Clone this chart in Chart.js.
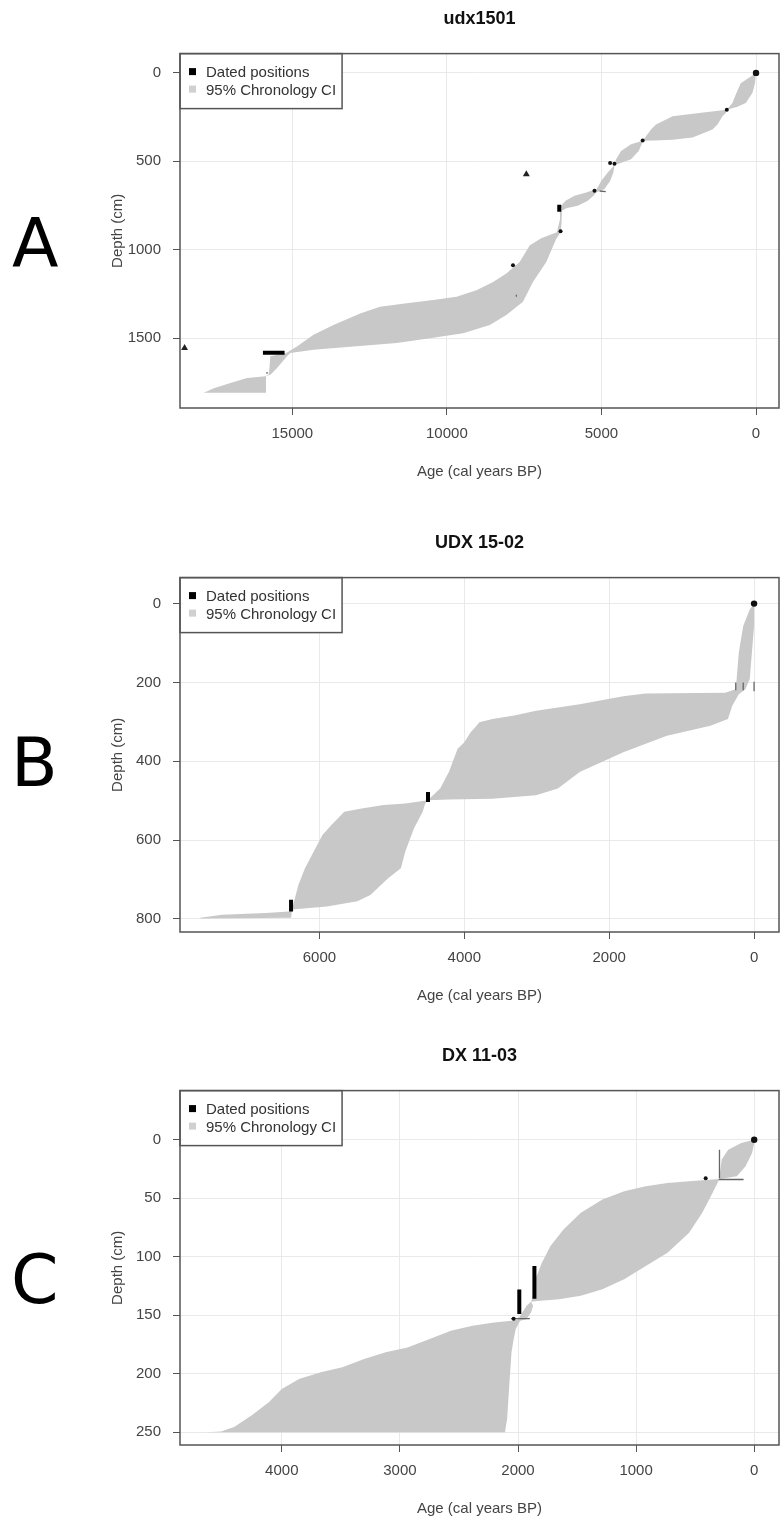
<!DOCTYPE html>
<html lang="en">
<head>
  <meta charset="UTF-8" />
  <title>Age-depth models</title>
  <script src="https://cdn.jsdelivr.net/npm/chart.js"></script>
  <style>
    html, body { margin: 0; padding: 0; background: #fff; }
    #page { position: relative; width: 783px; height: 1521px; overflow: hidden; }
    .panel { position: absolute; left: 0; width: 783px; height: 484px; }
    .tag { position: absolute; font: 68px "DejaVu Sans", sans-serif; line-height: 1; color: #000; }
  </style>
</head>
<body>
<div id="page">
  <div class="tag" style="left:12px; top:210px">A</div>
  <div class="tag" style="left:11px; top:729px">B</div>
  <div class="tag" style="left:11px; top:1246px">C</div>
  <div class="panel" style="top:0px"><canvas id="chart-a"></canvas></div>
  <div class="panel" style="top:524px"><canvas id="chart-b"></canvas></div>
  <div class="panel" style="top:1037px"><canvas id="chart-c"></canvas></div>
</div>

<script>
  // ---- shared labels ----
  const legendLabels = ['Dated positions', '95% Chronology CI'];
  const xTitle = 'Age (cal years BP)';
  const yTitle = 'Depth (cm)';

  // ---- A: udx1501 ----
  // young (right) edge of the 95% band, top -> bottom
  const aYoungDepth = [0, 58, 114, 170, 192, 208, 227, 245, 292, 320, 365, 378, 383, 384, 404, 442, 489, 522, 564, 611, 657, 676, 695, 723, 751, 766, 780, 845, 901, 938, 1069, 1182, 1294, 1369, 1425, 1472, 1500, 1528, 1547, 1566, 1584, 1603, 1669, 1706, 1715, 1809];
  const aYoungAge   = [0, 32, 118, 333, 600, 946, 978, 1086, 1247, 1408, 2054, 2700, 3300, 3667, 3699, 3796, 4043, 4581, 4613, 4720, 4903, 5171, 5258, 5442, 5764, 6139, 6280, 6290, 6320, 6462, 6785, 7216, 7539, 8076, 8613, 9474, 10549, 11623, 13023, 14313, 15065, 15172, 15495, 15700, 15850, 15850];
  // old (left) edge of the band, top -> bottom
  const aOldDepth = [0, 58, 114, 170, 208, 227, 245, 292, 320, 358, 375, 384, 404, 442, 489, 522, 564, 611, 657, 676, 695, 723, 751, 766, 780, 826, 901, 935, 976, 1069, 1135, 1182, 1229, 1266, 1285, 1303, 1322, 1360, 1425, 1481, 1547, 1584, 1603, 1669, 1706, 1715, 1725, 1753, 1784, 1809];
  const aOldAge   = [0, 494, 635, 764, 946, 1839, 2700, 3236, 3397, 3558, 3635, 3667, 4043, 4365, 4526, 4581, 4797, 5010, 5152, 5494, 5871, 6162, 6300, 6333, 6345, 6340, 6441, 6950, 7323, 7646, 8076, 8506, 9044, 9689, 10442, 11302, 12162, 12807, 13668, 14313, 14851, 15200, 15710, 15740, 15765, 15872, 16463, 17001, 17539, 17862];
  const aDotAge   = [0, 946, 3667, 5226, 6323, 7862, 4720, 4580];
  const aDotDepth = [0, 208, 382, 667, 895, 1088, 510, 514];
  const aTriAge   = [7430, 18485];
  const aTriDepth = [573, 1556];
  const aSpans    = [[6365, 745, 6365, 785], [15950, 1582, 15250, 1582]];   // age1, depth1, age2, depth2
  const aThin     = [[7752, 1254, 7752, 1266], [15818, 1692, 15818, 1702], [5060, 668, 4860, 672]];
  const aAgeTicks = [0, 5000, 10000, 15000];
  const aDepthTicks = [0, 500, 1000, 1500];

  // ---- B: UDX 15-02 ----
  const bYoungDepth = [0, 57, 124, 192, 217, 230, 259, 293, 310, 335, 377, 427, 469, 486, 495, 497, 499, 507, 528, 570, 629, 671, 697, 739, 755, 768, 776, 797];
  const bYoungAge   = [0, 0, 30, 60, 120, 211, 301, 361, 602, 1204, 1805, 2407, 2708, 3009, 3611, 4213, 4501, 4540, 4574, 4694, 4814, 4875, 5055, 5296, 5476, 5897, 6379, 6390];
  const bOldDepth = [0, 15, 57, 124, 192, 217, 226, 228, 235, 255, 272, 284, 293, 301, 314, 326, 352, 368, 427, 469, 490, 499, 507, 511, 520, 528, 562, 587, 629, 671, 713, 755, 776, 781, 785, 789, 797, 799];
  const bOldAge   = [0, 60, 150, 211, 241, 253, 400, 1500, 1805, 2407, 3009, 3310, 3611, 3791, 3852, 3912, 4002, 4092, 4213, 4333, 4453, 4501, 4814, 5115, 5416, 5657, 5837, 5958, 6078, 6199, 6289, 6349, 6379, 6420, 6740, 7342, 7643, 7643];
  const bDotAge   = [0];
  const bDotDepth = [0];
  const bSpans    = [[4501, 478, 4501, 503], [6391, 751, 6391, 781]];
  const bThin     = [[0, 198, 0, 222], [150, 200, 150, 220], [253, 200, 253, 220]];
  const bAgeTicks = [0, 2000, 4000, 6000];
  const bDepthTicks = [0, 200, 400, 600, 800];

  // ---- C: DX 11-03 ----
  const cYoungDepth = [0, 2.8, 11.4, 22.7, 31.3, 33.5, 48.3, 62.5, 79.5, 96.6, 108, 119.3, 127.8, 133.5, 136.4, 137.8, 138.6, 142, 147.7, 153.4, 154.8, 161.9, 170.5, 181.8, 210.2, 238.6, 250];
  const cYoungAge   = [0, 0, 18, 73, 147, 294, 367, 440, 551, 734, 918, 1101, 1285, 1468, 1652, 1835, 1890, 1872, 1890, 1930, 1982, 2019, 2037, 2055, 2074, 2092, 2110];
  const cOldDepth = [0, 2.8, 8.5, 17, 31.3, 33.5, 35.5, 36.9, 39.8, 44, 51.1, 62.5, 76.7, 90.9, 105.1, 119.3, 133.5, 138.6, 142, 147.7, 153.4, 154.8, 156.3, 159.1, 163.4, 170.5, 177.6, 181.8, 187.5, 194.6, 198.9, 204.6, 213.1, 224.4, 235.8, 245.7, 249.4, 250];
  const cOldAge   = [0, 110, 220, 275, 294, 294, 551, 734, 918, 1101, 1285, 1468, 1615, 1725, 1798, 1853, 1872, 1890, 1927, 1963, 2000, 2055, 2202, 2386, 2569, 2753, 2936, 3120, 3303, 3487, 3670, 3854, 4000, 4110, 4257, 4404, 4514, 4643];
  const cDotAge   = [0, 411, 2037];
  const cDotDepth = [0, 33, 153];
  const cSpans    = [[1989, 128, 1989, 149], [1861, 108, 1861, 136]];
  const cThin     = [[294, 8.5, 294, 33], [90, 34, 300, 34], [2060, 153, 1900, 153]];
  const cAgeTicks = [0, 1000, 2000, 3000, 4000];
  const cDepthTicks = [0, 50, 100, 150, 200, 250];

  const FONT = '"Liberation Sans", Arial, sans-serif';
  const BAND = '#c8c8c8';

  // closed outline: young edge downwards, old edge back up
  function bandPolygon(yd, ya, od, oa) {
    const pts = yd.map((d, i) => ({x: ya[i], y: d}));
    for (let i = od.length - 1; i >= 0; i--) pts.push({x: oa[i], y: od[i]});
    return pts;
  }

  function spanSets(spans, width, color) {
    return spans.map(s => ({
      type: 'line',
      data: [{x: s[0], y: s[1]}, {x: s[2], y: s[3]}],
      borderColor: color,
      borderWidth: width,
      borderCapStyle: 'butt',
      pointRadius: 0,
      fill: false
    }));
  }

  // plot frame + framed legend drawn inside top-left of the plot area
  const frame = {
    id: 'frame',
    afterDraw(chart) {
      const {ctx, chartArea: a} = chart;
      ctx.save();
      ctx.font = '15px ' + FONT;
      const w = Math.max(...legendLabels.map(t => ctx.measureText(t).width)) + 32;
      const h = 55;
      ctx.fillStyle = '#fff';
      ctx.fillRect(a.left, a.top, w, h);
      ctx.strokeStyle = '#555';
      ctx.lineWidth = 1.5;
      ctx.strokeRect(a.left, a.top, w, h);
      ctx.fillStyle = '#000';
      ctx.fillRect(a.left + 9, a.top + 14.5, 7, 7);
      ctx.fillStyle = '#d0d0d0';
      ctx.fillRect(a.left + 9, a.top + 32, 7, 7);
      ctx.fillStyle = '#333';
      ctx.textBaseline = 'middle';
      ctx.fillText(legendLabels[0], a.left + 26, a.top + 19);
      ctx.fillText(legendLabels[1], a.left + 26, a.top + 37);
      ctx.strokeRect(a.left, a.top, a.right - a.left, a.bottom - a.top);
      ctx.restore();
    }
  };

  function makeChart(id, cfg) {
    const datasets = [
      {
        type: 'scatter',
        data: cfg.dotAge.map((a, i) => ({x: a, y: cfg.dotDepth[i]})),
        pointStyle: 'circle',
        pointRadius: c => c.dataIndex === 0 ? 3.2 : 2,
        backgroundColor: '#111', borderColor: '#111', borderWidth: 0
      },
      {
        type: 'scatter',
        data: cfg.triAge.map((a, i) => ({x: a, y: cfg.triDepth[i]})),
        pointStyle: 'triangle', pointRadius: 4, backgroundColor: '#222', borderColor: '#222', borderWidth: 0
      },
      ...spanSets(cfg.spans, 4, '#000'),
      ...spanSets(cfg.thin, 1.3, '#666'),
      {
        type: 'line',
        label: legendLabels[1],
        data: bandPolygon(cfg.youngDepth, cfg.youngAge, cfg.oldDepth, cfg.oldAge),
        borderWidth: 0,
        borderColor: BAND,
        backgroundColor: BAND,
        pointRadius: 0,
        fill: 'shape'
      }
    ];

    new Chart(document.getElementById(id), {
      type: 'line',
      data: {datasets},
      options: {
        responsive: true,
        maintainAspectRatio: false,
        animation: false,
        events: [],
        layout: {padding: {left: 0, right: 3, top: 0, bottom: 0}},
        plugins: {
          legend: {display: false},
          tooltip: {enabled: false},
          title: {
            display: true,
            text: cfg.title,
            fullSize: false,
            color: '#111',
            font: {family: FONT, size: 18, weight: 'bold'},
            padding: {top: 8, bottom: 24}
          }
        },
        scales: {
          x: {
            type: 'linear',
            reverse: true,
            min: cfg.xRange[0],
            max: cfg.xRange[1],
            afterBuildTicks: s => { s.ticks = cfg.xTicks.map(v => ({value: v})); },
            afterFit: s => { s.height = 76; },
            ticks: {
              color: '#444', padding: 10, maxRotation: 0,
              font: {family: FONT, size: 15},
              callback: v => String(v)
            },
            grid: {color: '#e9e9e9', tickColor: '#555', tickLength: 7},
            border: {display: false},
            title: {
              display: true, text: xTitle, color: '#444',
              font: {family: FONT, size: 15}, padding: {top: 0, bottom: 3}
            }
          },
          y: {
            type: 'linear',
            reverse: true,
            min: cfg.yRange[0],
            max: cfg.yRange[1],
            afterBuildTicks: s => { s.ticks = cfg.yTicks.map(v => ({value: v})); },
            afterFit: s => { s.width = 180; },
            ticks: {
              color: '#444', padding: 12,
              font: {family: FONT, size: 15},
              callback: v => String(v)
            },
            grid: {color: '#e9e9e9', tickColor: '#555', tickLength: 7},
            border: {display: false},
            title: {
              display: true, text: yTitle, color: '#444',
              font: {family: FONT, size: 15}, padding: {top: 109, bottom: 0}
            }
          }
        }
      },
      plugins: [frame]
    });
  }

  makeChart('chart-a', {
    title: 'udx1501',
    youngDepth: aYoungDepth, youngAge: aYoungAge, oldDepth: aOldDepth, oldAge: aOldAge,
    dotAge: aDotAge, dotDepth: aDotDepth, triAge: aTriAge, triDepth: aTriDepth,
    spans: aSpans, thin: aThin,
    xTicks: aAgeTicks, yTicks: aDepthTicks,
    xRange: [-743, 18633], yRange: [-109, 1895]
  });

  makeChart('chart-b', {
    title: 'UDX 15-02',
    youngDepth: bYoungDepth, youngAge: bYoungAge, oldDepth: bOldDepth, oldAge: bOldAge,
    dotAge: bDotAge, dotDepth: bDotDepth, triAge: [], triDepth: [],
    spans: bSpans, thin: bThin,
    xTicks: bAgeTicks, yTicks: bDepthTicks,
    xRange: [-344, 7924], yRange: [-66, 833]
  });

  makeChart('chart-c', {
    title: 'DX 11-03',
    youngDepth: cYoungDepth, youngAge: cYoungAge, oldDepth: cOldDepth, oldAge: cOldAge,
    dotAge: cDotAge, dotDepth: cDotDepth, triAge: [], triDepth: [],
    spans: cSpans, thin: cThin,
    xTicks: cAgeTicks, yTicks: cDepthTicks,
    xRange: [-210, 4862], yRange: [-42, 261]
  });
</script>
</body>
</html>
